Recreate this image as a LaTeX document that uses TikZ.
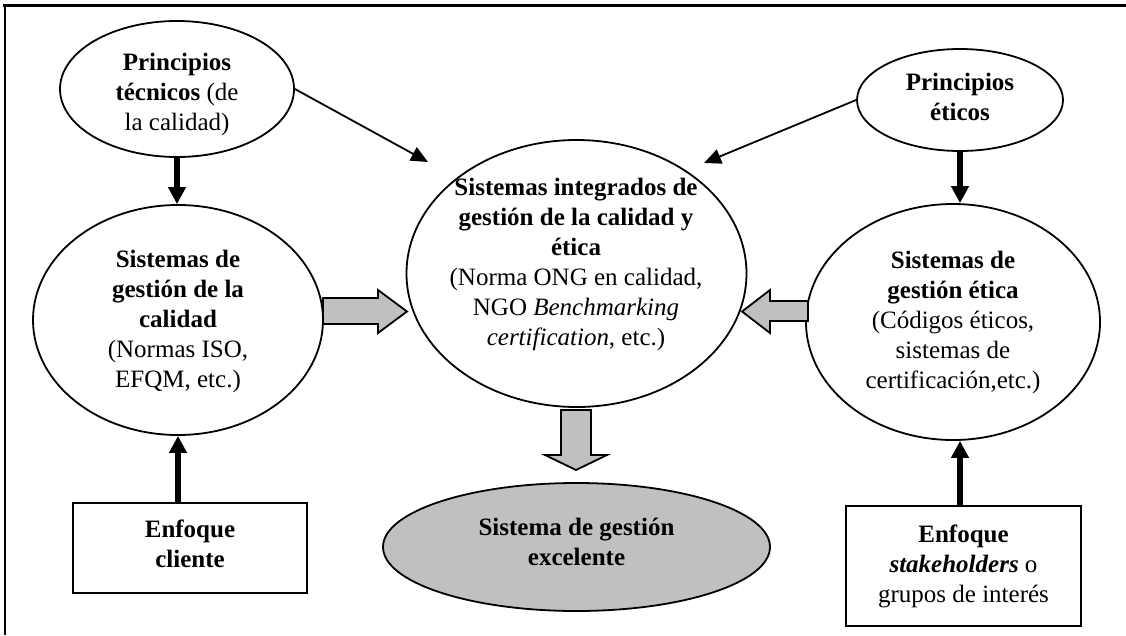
\documentclass[tikz,border=0pt]{standalone}
\usepackage{fontspec}
\setmainfont{Liberation Serif}
\usetikzlibrary{arrows.meta,shapes.geometric}

\definecolor{boxgray}{HTML}{C0C0C0}

\tikzset{
  ell/.style={draw=black, line width=1.8pt, ellipse, inner sep=0pt, fill=white},
  boxnode/.style={draw=black, line width=1.8pt, rectangle, inner sep=0pt, fill=white},
  txt/.style={align=center, inner sep=0pt, font=\fontsize{25}{30}\selectfont},
  thickarrow/.style={line width=5.5pt, -{Triangle[width=17pt,length=17pt]}},
  thinarrow/.style={line width=1.8pt, -{Triangle[width=15pt,length=17pt]}},
  blockarrow/.style={draw=black, line width=1.8pt, fill=boxgray, line join=miter},
  frameline/.style={line width=2.4pt},
}

\begin{document}
\begin{tikzpicture}[x=1pt,y=-1pt]
\useasboundingbox (0,0) rectangle (1126,635);

% open frame: top and left rules
\draw[frameline] (3,5.5) -- (1126,5.5);
\draw[frameline] (5,4.5) -- (5,635);

% ellipses
\node[ell, minimum width=234pt, minimum height=136pt] (tech) at (177,89) {};
\node[ell, minimum width=290pt, minimum height=230pt] (sgc) at (178,320) {};
\node[ell, minimum width=340pt, minimum height=267pt] (integ) at (576.5,273.5) {};
\node[ell, minimum width=206pt, minimum height=102pt] (etic) at (960,100) {};
\node[ell, minimum width=294pt, minimum height=236pt] (sge) at (953,322) {};
\node[ell, fill=boxgray, minimum width=387pt, minimum height=128pt] (exc) at (576.5,547) {};

% boxes
\node[boxnode, minimum width=234pt, minimum height=90pt] (cli) at (190,548) {};
\node[boxnode, minimum width=235pt, minimum height=120pt] (stk) at (963.5,566) {};

% texts
\node[txt] (techT) at (177,94) {\textbf{Principios}\\\textbf{técnicos} (de\\la calidad)};
\node[txt] (sgcT) at (178,321.5) {\textbf{Sistemas de}\\\textbf{gestión de la}\\\textbf{calidad}\\(Normas ISO,\\EFQM, etc.)};
\node[txt] (integT) at (576,264.5) {\textbf{Sistemas integrados de}\\\textbf{gestión de la calidad y}\\\textbf{ética}\\(Norma ONG en calidad,\\NGO \textit{Benchmarking}\\\textit{certification}, etc.)};
\node[txt] (eticT) at (960,97) {\textbf{Principios}\\\textbf{éticos}};
\node[txt] (sgeT) at (953,322) {\textbf{Sistemas de}\\\textbf{gestión ética}\\(Códigos éticos,\\sistemas de\\certificación,etc.)};
\node[txt] (excT) at (576.5,541.5) {\textbf{Sistema de gestión}\\\textbf{excelente}};
\node[txt] (cliT) at (190,544) {\textbf{Enfoque}\\\textbf{cliente}};
\node[txt] (stkT) at (963.5,566) {\textbf{Enfoque}\\\textbf{\textit{stakeholders}} o\\grupos de interés};

% free ends of the thin arrows
\coordinate (tipL) at (428,162);
\coordinate (tipR) at (704,163);

% thin arrows into the integrated system
\draw[thinarrow] (tech.east) -- (tipL);
\draw[thinarrow] (etic.west) -- (tipR);

% thick black arrows
\draw[thickarrow] (tech.south) -- (tech.south |- sgc.north);
\draw[thickarrow] (etic.south) -- (etic.south |- sge.north);
\draw[thickarrow] (sgc.south |- cli.north) -- (sgc.south);
\draw[thickarrow] (etic.south |- stk.north) -- (etic.south |- sge.south);

% grey block arrows
\draw[blockarrow] (323,298) -- (378,298) -- (378,290) -- (407,311.5) -- (378,333) -- (378,324) -- (323,324) -- cycle;
\draw[blockarrow] (808,301) -- (770,301) -- (770,290) -- (742,311.5) -- (770,333) -- (770,321) -- (808,321) -- cycle;
\draw[blockarrow] (561,410) -- (591,410) -- (591,455) -- (607,455) -- (576,470) -- (545,455) -- (561,455) -- cycle;
\end{tikzpicture}
\end{document}
